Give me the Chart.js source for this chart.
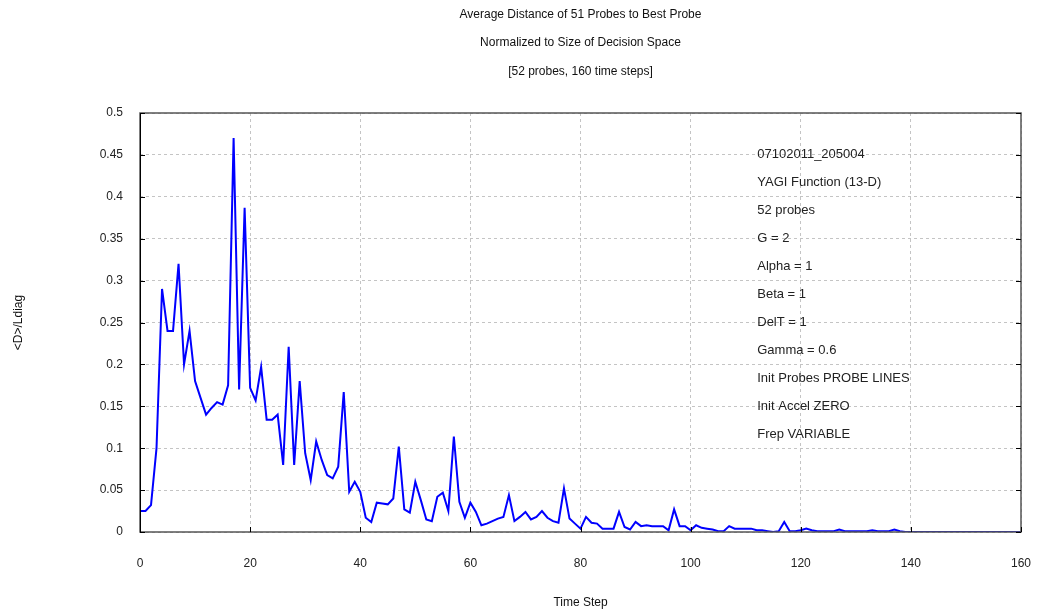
<!DOCTYPE html>
<html lang="en">
<head>
  <meta charset="UTF-8">
  <title>Average Distance of 51 Probes to Best Probe</title>
  <script src="https://cdn.jsdelivr.net/npm/chart.js"></script>
  <style>
    body {
      margin: 0;
      padding: 0;
      background: #fff;
    }

    .wrap {
      width: 1037px;
      height: 616px;
      position: relative;
    }
  </style>
</head>
<body>
<div class="wrap">
  <canvas id="distChart"></canvas>
</div>

<script>
  // time steps 0..160
  const steps = [];
  for (let i = 0; i <= 160; i++) steps.push(i);

  // <D>/Ldiag, one value per step
  const avgDist = [
    0.025, 0.025, 0.032, 0.100, 0.290, 0.240, 0.240, 0.320, 0.200, 0.240,
    0.180, 0.160, 0.140, 0.148, 0.155, 0.152, 0.175, 0.470, 0.170, 0.387,
    0.172, 0.157, 0.197, 0.134, 0.134, 0.140, 0.080, 0.221, 0.080, 0.180,
    0.094, 0.062, 0.108, 0.086, 0.068, 0.064, 0.078, 0.167, 0.048, 0.060,
    0.048, 0.017, 0.012, 0.035, 0.034, 0.033, 0.040, 0.102, 0.027, 0.023,
    0.060, 0.038, 0.015, 0.013, 0.042, 0.047, 0.025, 0.114, 0.036, 0.017,
    0.035, 0.024, 0.008, 0.010, 0.013, 0.016, 0.018, 0.044, 0.013, 0.018,
    0.024, 0.015, 0.018, 0.025, 0.017, 0.013, 0.011, 0.052, 0.016, 0.010,
    0.004, 0.018, 0.011, 0.010, 0.004, 0.004, 0.004, 0.024, 0.006, 0.003,
    0.012, 0.007, 0.008, 0.007, 0.007, 0.007, 0.002, 0.027, 0.007, 0.007,
    0.002, 0.008, 0.005, 0.004, 0.003, 0.001, 0.001, 0.007, 0.004, 0.004,
    0.004, 0.004, 0.002, 0.002, 0.001, 0.000, 0.001, 0.012, 0.001, 0.001,
    0.002, 0.004, 0.002, 0.001, 0.001, 0.001, 0.001, 0.003, 0.001, 0.001,
    0.001, 0.001, 0.001, 0.002, 0.001, 0.001, 0.001, 0.003, 0.001, 0.000,
    0.000, 0.000, 0.000, 0.000, 0.000, 0.000, 0.000, 0.000, 0.000, 0.000,
    0.000, 0.000, 0.000, 0.000, 0.000, 0.000, 0.000, 0.000, 0.000, 0.000,
    0.000
  ];

  const titleLines = [
    'Average Distance of 51 Probes to Best Probe',
    'Normalized to Size of Decision Space',
    '[52 probes, 160 time steps]'
  ];

  const runNotes = [
    '07102011_205004',
    'YAGI Function (13-D)',
    '52 probes',
    'G = 2',
    'Alpha = 1',
    'Beta = 1',
    'DelT = 1',
    'Gamma = 0.6',
    'Init Probes PROBE LINES',
    'Init Accel ZERO',
    'Frep VARIABLE'
  ];

  const FONT = "'Liberation Sans', Arial, sans-serif";

  // frame + inward tick marks + run notes
  const framePlugin = {
    id: 'frame',
    afterDraw(chart) {
      const { ctx, chartArea: a, scales } = chart;
      ctx.save();
      ctx.strokeStyle = '#555';
      ctx.lineWidth = 1.5;
      ctx.strokeRect(a.left, a.top, a.right - a.left, a.bottom - a.top);

      ctx.strokeStyle = '#000';
      ctx.lineWidth = 1;
      ctx.beginPath();
      ctx.moveTo(a.left + 0.5, a.top);
      ctx.lineTo(a.left + 0.5, a.bottom);
      scales.y.ticks.forEach(t => {
        const y = Math.round(scales.y.getPixelForValue(t.value)) + 0.5;
        ctx.moveTo(a.left, y); ctx.lineTo(a.left + 5, y);
        ctx.moveTo(a.right, y); ctx.lineTo(a.right - 5, y);
      });
      scales.x.ticks.forEach(t => {
        const x = Math.round(scales.x.getPixelForValue(t.value)) + 0.5;
        ctx.moveTo(x, a.bottom); ctx.lineTo(x, a.bottom - 5);
      });
      ctx.stroke();

      ctx.fillStyle = '#222';
      ctx.font = '13px ' + FONT;
      ctx.textBaseline = 'middle';
      ctx.textAlign = 'left';
      const x0 = scales.x.getPixelForValue(112.1);
      runNotes.forEach((line, i) => {
        const y = scales.y.getPixelForValue(0.45) + i * 28;
        ctx.fillText(line, x0, y);
      });
      ctx.restore();
    }
  };

  const ctx = document.getElementById('distChart').getContext('2d');
  new Chart(ctx, {
    type: 'line',
    data: {
      labels: steps,
      datasets: [{
        label: '<D>/Ldiag',
        data: steps.map((s, i) => ({ x: s, y: avgDist[i] })),
        borderColor: '#0000ff',
        borderWidth: 2,
        pointRadius: 0,
        tension: 0,
        fill: false
      }]
    },
    options: {
      responsive: true,
      maintainAspectRatio: false,
      animation: false,
      layout: { padding: { left: 0, right: 0, top: 0, bottom: 0 } },
      plugins: {
        legend: { display: false },
        tooltip: { enabled: false },
        title: {
          display: true,
          fullSize: false,
          text: titleLines,
          color: '#111',
          font: { family: FONT, size: 12, weight: 'normal', lineHeight: 28.5 / 12 },
          padding: { top: 0, bottom: 27.5 }
        }
      },
      scales: {
        x: {
          type: 'linear',
          min: 0,
          max: 160,
          afterFit: s => { s.height = 84; s.paddingRight = 16; },
          border: { display: false, dash: [3, 3] },
          grid: {
            color: '#c4c4c4',
            drawTicks: false
          },
          ticks: {
            stepSize: 20,
            padding: 24,
            maxRotation: 0,
            color: '#222',
            font: { family: FONT, size: 12 }
          },
          title: {
            display: true,
            text: 'Time Step',
            color: '#111',
            font: { family: FONT, size: 12 },
            padding: { top: 0, bottom: 6 }
          }
        },
        y: {
          min: 0,
          max: 0.5,
          afterFit: s => { s.width = 140; },
          border: { display: false, dash: [3, 3] },
          grid: {
            color: '#c4c4c4',
            drawTicks: false
          },
          ticks: {
            stepSize: 0.05,
            padding: 17,
            color: '#222',
            font: { family: FONT, size: 12 },
            callback: v => String(Number(v.toFixed(2)))
          },
          title: {
            display: true,
            text: '<D>/Ldiag',
            color: '#111',
            font: { family: FONT, size: 12 },
            padding: { top: 11, bottom: 0 }
          }
        }
      }
    },
    plugins: [framePlugin]
  });
</script>
</body>
</html>
